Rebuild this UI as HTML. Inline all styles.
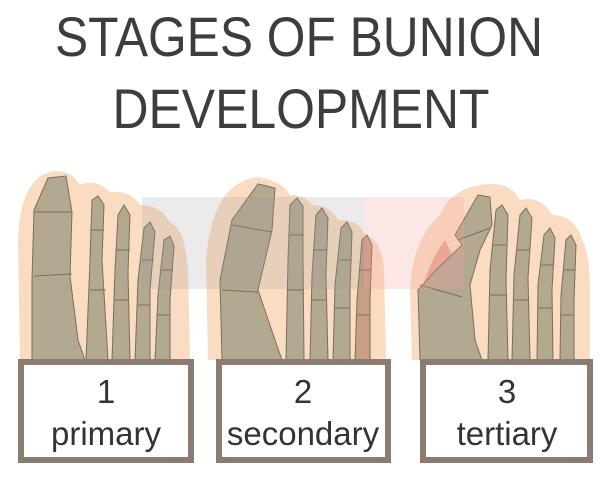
<!DOCTYPE html>
<html><head><meta charset="utf-8"><style>
html,body{margin:0;padding:0;background:#fff;}
svg{display:block;}
</style></head><body>
<svg width="600" height="481" viewBox="0 0 600 481" xmlns="http://www.w3.org/2000/svg" font-family="Liberation Sans, DejaVu Sans, sans-serif">
<rect width="600" height="481" fill="#fff"/>
<text x="299" y="56" font-size="56" fill="#3d3d3d" text-anchor="middle" textLength="488" lengthAdjust="spacingAndGlyphs">STAGES OF BUNION</text>
<text x="301" y="128" font-size="56" fill="#3d3d3d" text-anchor="middle" textLength="377" lengthAdjust="spacingAndGlyphs">DEVELOPMENT</text>

<g stroke="#7a6e5e" stroke-width="1" fill="#b3a890">
<!-- foot 1 -->
<path d="M20 360 L18 240 Q20 180 50 172 Q70 168 80 185 Q95 178 110 192 Q130 190 140 205 Q160 205 170 222 Q185 228 188 270 L190 360 Z" fill="#fadcc2" stroke="none"/>
<path d="M32 360 L32 280 L34 210 L48 178 L66 176 L72 212 L70 276 L78 340 L85 360 Z"/>
<path d="M34 276 L72 274 M34 212 L72 212" fill="none"/>
<path d="M86 360 L90 260 L92 200 L98 196 L104 205 L102 260 L108 360 Z"/>
<path d="M90 230 L104 230 M90 290 L106 290" fill="none"/>
<path d="M112 360 L115 270 L118 215 L124 205 L130 215 L128 272 L130 360 Z"/>
<path d="M116 250 L130 250 M114 300 L128 300" fill="none"/>
<path d="M135 360 L138 280 L144 228 L150 222 L155 232 L150 290 L150 360 Z"/>
<path d="M142 260 L154 260 M137 305 L150 305" fill="none"/>
<path d="M155 360 L158 295 L164 240 L170 236 L174 246 L170 300 L170 360 Z"/>
<path d="M162 270 L173 270 M157 315 L170 315" fill="none"/>
<!-- foot 2 -->
<path d="M208 360 L206 260 Q210 210 230 190 Q250 172 270 180 Q285 185 290 195 Q305 195 312 205 Q330 205 338 220 Q360 220 365 235 Q382 240 384 270 L386 360 Z" fill="#fadcc2" stroke="none"/>
<path d="M222 360 L220 280 L232 220 L258 184 L275 188 L272 230 L258 290 L275 340 L282 360 Z"/>
<path d="M222 290 L258 292 M232 225 L272 232" fill="none"/>
<path d="M286 360 L288 260 L290 205 L297 198 L303 206 L303 260 L304 360 Z"/>
<path d="M289 235 L303 235 M288 290 L304 290" fill="none"/>
<path d="M310 360 L312 275 L316 215 L322 208 L328 218 L326 275 L328 360 Z"/>
<path d="M313 250 L327 250 M312 300 L327 300" fill="none"/>
<path d="M333 360 L335 285 L341 228 L347 222 L352 232 L350 290 L350 360 Z"/>
<path d="M339 260 L351 260 M334 308 L350 308" fill="none"/>
<path d="M355 360 L357 300 L362 240 L367 235 L372 245 L370 300 L370 360 Z" fill="#c99d86"/>
<path d="M360 270 L371 270 M356 315 L370 315" fill="none"/>
<!-- foot 3 -->
<path d="M412 360 L410 290 Q412 240 440 215 Q450 190 480 185 Q510 180 520 200 Q540 195 552 215 Q575 215 582 240 Q590 250 590 300 L590 360 Z" fill="#fadcc2" stroke="none"/>
<path d="M420 295 Q430 260 445 240 L460 270 L448 300 Z" fill="#e8a890" stroke="none"/>
<path d="M420 360 L418 290 L436 270 L462 245 L455 235 L478 195 L490 197 L492 225 L480 250 L470 285 L475 340 L482 360 Z"/>
<path d="M420 285 L462 297 M458 240 L490 228" fill="none"/>
<path d="M488 360 L490 270 L496 210 L502 205 L508 215 L506 280 L508 360 Z"/>
<path d="M492 245 L506 245 M490 295 L507 295" fill="none"/>
<path d="M512 360 L514 275 L520 215 L526 208 L532 218 L528 278 L530 360 Z"/>
<path d="M516 250 L530 250 M513 300 L529 300" fill="none"/>
<path d="M537 360 L538 285 L544 235 L550 228 L555 238 L552 290 L553 360 Z"/>
<path d="M541 265 L554 265 M538 308 L552 308" fill="none"/>
<path d="M560 360 L561 295 L566 240 L571 235 L576 245 L574 300 L574 360 Z"/>
<path d="M564 270 L575 270 M561 315 L574 315" fill="none"/>
</g>
<!-- watermark band -->
<rect x="142" y="197" width="222" height="92" fill="#9a9a9a" opacity="0.2"/>
<rect x="364" y="197" width="100" height="92" fill="#f4a0a0" opacity="0.25"/>

<g fill="#fff" stroke="#8b7b70" stroke-width="6">
<rect x="21" y="362" width="170" height="98"/>
<rect x="219" y="362" width="169" height="98"/>
<rect x="423" y="362" width="167" height="98"/>
</g>
<g fill="#333" font-size="33" text-anchor="middle">
<text x="106" y="403">1</text>
<text x="106" y="445">primary</text>
<text x="303" y="403">2</text>
<text x="303" y="445">secondary</text>
<text x="507" y="403">3</text>
<text x="507" y="445">tertiary</text>
</g>
</svg>
</body></html>
